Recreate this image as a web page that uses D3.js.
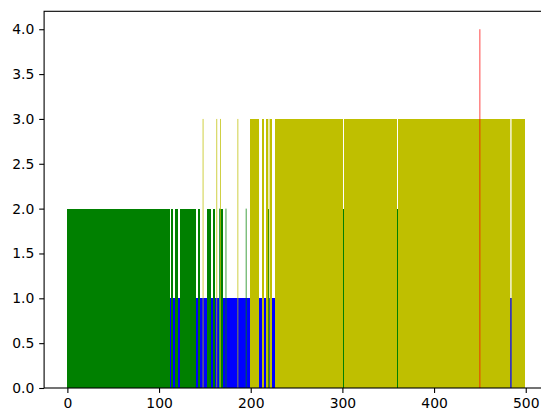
<script src="https://d3js.org/d3.v7.min.js"></script>
<style>
body {margin:0; background:#fff;}
svg text {font-family:'DejaVu Sans'; font-size:13.9px; fill:#000;}
.axis path {display:none;}
.axis line {stroke:#000; stroke-width:1.1;}
</style>
<body>
<svg id="chart"></svg>
<script>
var nBars = 500;
var runs = [[0,111,2],[112,113,1],[114,115,2],[116,117,1],[118,120,2],[121,122,1],[123,140,2],
            [141,142,1],[143,144,2],[145,152,1],[153,156,2],[157,158,1],[159,161,2],[162,165,1],
            [166,169,2],[170,172,1],[173,173,2],[174,199,1],[200,209,3],[210,212,1],[213,214,3],
            [215,216,1],[217,218,3],[219,219,2],[220,220,3],[221,221,1],[222,223,3],[224,226,1],
            [227,499,3]];
// single bars that differ from their run [index, value]
var spikes = [[148,3],[163,3],[167,3],[186,3],[195,2],[301,2],[360,2],[450,4],[460,1],[483,1],[485,1]];
var colors = {1:'#0000ff', 2:'#008000', 3:'#bfbf00', 4:'#ff0000'};
var xTicks = [0,100,200,300,400,500];
var yTicks = [0,0.5,1,1.5,2,2.5,3,3.5,4];

var values = new Array(nBars).fill(0);
runs.forEach(function(r){ for (var i=r[0]; i<=r[1]; i++) values[i]=r[2]; });
spikes.forEach(function(s){ values[s[0]]=s[1]; });
var data = values.map(function(v,i){
  var a=values[i-1], b=values[i+1];
  // a lone bar taller than a neighbour is drawn at its true (sub-pixel) width
  return {i:i, v:v, thin:(a!==v && b!==v && (v>a || v>b)), under:(a===b ? a : null)};
});

var W=541, H=410;
var L=44.1, R=548.1, T=11.3, B=388;
var pad = (nBars-0.2)*0.05;
var x = d3.scaleLinear().domain([-0.4-pad, nBars-1+0.4+pad]).range([L,R]);
var y = d3.scaleLinear().domain([0, 4.2]).range([B,T]);

// snap bars to whole pixels so neighbours join without seams; never thinner than 1px
function x1(d){ return Math.round(x(d.i+0.5)); }
function x0(d){ var a=Math.round(x(d.i-0.5)); return a<x1(d) ? a : x1(d)-1; }
function yy(v){ return Math.round(y(v)); }

var svg = d3.select('#chart').attr('width',W).attr('height',H);
var solid = data.filter(function(d){return !d.thin});
var thin = data.filter(function(d){return d.thin});

svg.selectAll('.bar').data(solid).enter().append('rect').attr('class','bar')
   .attr('x',x0).attr('width',function(d){return x1(d)-x0(d)})
   .attr('y',function(d){return yy(d.v)})
   .attr('height',function(d){return yy(0)-yy(d.v)})
   .attr('fill',function(d){return colors[d.v]});

// fill a thin bar's slot with the run around it, then blend the bar in on top
svg.selectAll('.under').data(thin.filter(function(d){return d.under})).enter().append('rect')
   .attr('class','under')
   .attr('x',x0).attr('width',function(d){return x1(d)-x0(d)})
   .attr('y',function(d){return yy(d.under)})
   .attr('height',function(d){return yy(0)-yy(d.under)})
   .attr('fill',function(d){return colors[d.under]});
svg.selectAll('.thin').data(thin).enter().append('rect').attr('class','thin')
   .attr('x',function(d){return x(d.i-0.4)})
   .attr('width',function(d){return x(d.i+0.4)-x(d.i-0.4)})
   .attr('y',function(d){return y(d.v)})
   .attr('height',function(d){return y(0)-y(d.v)})
   .attr('fill',function(d){return colors[d.v]});

svg.append('g').attr('class','axis').attr('transform','translate(0,'+B+')')
   .call(d3.axisBottom(x).tickValues(xTicks).tickSize(4.9).tickPadding(4.9).tickFormat(d3.format('d')));
svg.append('g').attr('class','axis').attr('transform','translate('+L+',0)')
   .call(d3.axisLeft(y).tickValues(yTicks).tickSize(4.9).tickPadding(4.9).tickFormat(d3.format('.1f')));
svg.selectAll('.axis text').attr('font-family',null).attr('font-size',null);

svg.append('rect').attr('x',L).attr('y',T).attr('width',R-L).attr('height',B-T)
   .attr('fill','none').attr('stroke','#000').attr('stroke-width',1.1);
</script>
</body>
